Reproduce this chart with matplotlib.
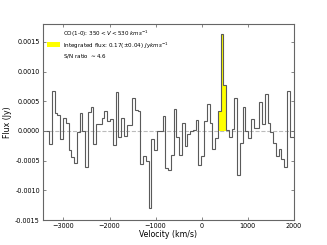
import numpy as np
import matplotlib
matplotlib.use("Agg")
import matplotlib.pyplot as plt
from matplotlib.patches import Patch
from matplotlib.ticker import FormatStrFormatter

# ---- data ----
bin_start = -3370.0   # km/s, left edge of first channel
bin_width = 60.0      # km/s
flux = [
    0.0, -0.00022, 0.00067, 0.00031, 0.00026, -0.00013, 0.00021, 0.00013, -0.00032, -0.00044,
    -0.00054, -0.00002, 0.0003, 0.0, -0.0006, 0.00032, 0.0004, -0.00022, 0.00012, 0.00011,
    0.00021, 0.00033, 0.00016, 0.0002, -0.00024, 0.00066, -0.0001, 0.00021, -0.00008, 0.0001,
    0.0001, 0.00055, 0.00035, 0.00033, -0.00056, -0.00042, -0.0005, -0.0013, -0.00014, -0.00032,
    0.0, 0.0, 0.00025, -0.00063, -0.00065, -0.0004, 0.00037, -0.0001, -0.0004, 0.00013,
    -0.00025, -0.00006, 0.0, 0.00002, 0.00018, -0.00058, -0.00043, 0.00016, 0.00046, 0.00013,
    -0.0003, -0.00012, 0.00034, 0.00164, 0.00078, 0.00002, -0.0001, 0.00003, 0.00056, -0.00074,
    -0.0002, 0.0004, 0.0, -0.00012, 0.0002, 0.00005, 0.00005, 0.00048, 0.00012, 0.00063,
    0.00014, -0.00001, -0.0002, -0.00042, -0.0003, -0.00048, -0.0006, 0.00067, -0.0001, -0.0001,
]
line_vmin, line_vmax = 350.0, 530.0
xticks = [-3000, -2000, -1000, 0, 1000, 2000]
yticks = [-0.0015, -0.0010, -0.0005, 0.0, 0.0005, 0.0010, 0.0015]
legend_label = ("CO(1-0): $350<V<530\\ kms^{-1}$\n"
                "Integrated flux: $0.17(\\pm0.04)\\ Jykms^{-1}$\n"
                "S/N ratio $\\sim$4.6")

flux = np.array(flux)
edges = bin_start + bin_width * np.arange(len(flux) + 1)

fig = plt.figure(figsize=(3.27, 2.45), dpi=100)
ax = fig.add_axes([0.1306, 0.102, 0.768, 0.80])

# highlighted channels
sel = (edges[:-1] >= line_vmin - 1) & (edges[1:] <= line_vmax + 1)
idx = np.where(sel)[0]
ax.stairs(flux[idx], edges[idx[0]:idx[-1] + 2], fill=True, color="#ffff00",
          baseline=0, zorder=1)

ax.stairs(flux, edges, baseline=None, color="#5a5a5a", lw=0.8, zorder=2)
ax.axhline(0, color="#bbbbbb", ls="--", lw=0.8, zorder=0)

ax.set_xlim(-3450, 2000)
ax.set_ylim(-0.0015, 0.0018)
ax.set_xticks(xticks)
ax.set_yticks(yticks)
ax.yaxis.set_major_formatter(FormatStrFormatter("%.4f"))
ax.tick_params(direction="in", top=True, right=True, length=2.5, width=0.5,
               labelsize=4.7, pad=2, color="#555555")
for s in ax.spines.values():
    s.set_color("#666666")
    s.set_linewidth(0.8)

ax.set_xlabel("Velocity (km/s)", fontsize=5.6, labelpad=1)
ax.set_ylabel("Flux (Jy)", fontsize=5.6, labelpad=2)

h = Patch(facecolor="#ffff00", edgecolor="none")
ax.legend([h], [legend_label], loc="upper left", frameon=False, fontsize=4.1,
          handlelength=2.2, handleheight=1.0, borderaxespad=0.4, handletextpad=0.6)

fig.savefig("out.png", dpi=100)
